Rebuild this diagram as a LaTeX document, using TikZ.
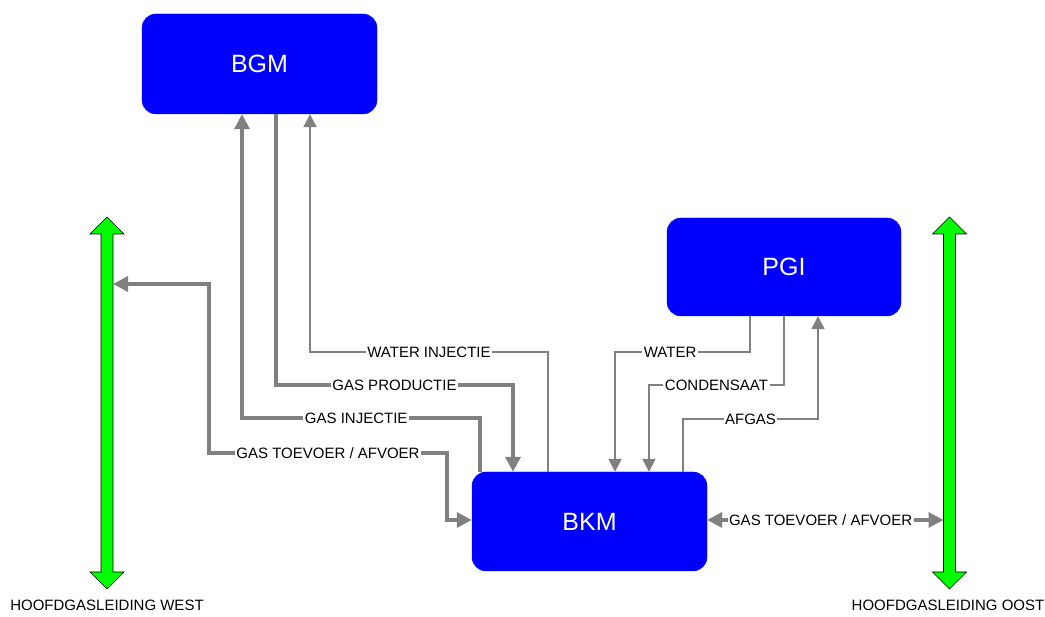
\documentclass[tikz,border=0pt]{standalone}
\usepackage{fontspec}
\setmainfont{Liberation Sans}
\usetikzlibrary{arrows.meta,calc}
\definecolor{boxblue}{RGB}{0,0,255}
\definecolor{lgray}{RGB}{128,128,128}
\definecolor{lgreen}{RGB}{0,255,0}
\begin{document}
\begin{tikzpicture}[x=1pt,y=1pt,
  blk/.style={rectangle, rounded corners=14pt, fill=boxblue, draw=boxblue,
    text=white, font=\fontsize{25}{30}\selectfont, minimum width=235pt,
    minimum height=100pt, inner sep=0pt},
  thk/.style={draw=lgray, line width=3.5pt, arrows={-Triangle[length=15pt,width=15pt]}},
  thkboth/.style={draw=lgray, line width=3.5pt,
    arrows={Triangle[length=15pt,width=15pt]-Triangle[length=15pt,width=15pt]}},
  thn/.style={draw=lgray, line width=2pt, arrows={-Triangle[length=13pt,width=13pt]}},
  lab/.style={fill=white, text=black, font=\fontsize{15}{18}\selectfont,
    inner sep=1.5pt, text height=10.8pt, text depth=0pt},
  bottomlab/.style={text=black, font=\fontsize{15}{18}\selectfont, inner sep=0pt},
  greenarrow/.style={fill=lgreen, draw=black, line width=0.6pt}
]
\useasboundingbox (0,0) rectangle (1045,617);

% main blocks
\node[blk] (BGM) at (259.5,553) {BGM};
\node[blk, minimum width=234pt, minimum height=98pt] (PGI) at (784,350) {PGI};
\node[blk, minimum height=99pt] (BKM) at (589.5,95.5) {BKM};

% green double arrows (pipelines)
\filldraw[greenarrow] (107,400) -- (124,383) -- (113,383) -- (113,45) -- (124,45)
  -- (107,28) -- (90,45) -- (101,45) -- (101,383) -- (90,383) -- cycle;
\filldraw[greenarrow] (949.5,400) -- (966.5,383) -- (955.5,383) -- (955.5,45) -- (966.5,45)
  -- (949.5,28) -- (932.5,45) -- (943.5,45) -- (943.5,383) -- (932.5,383) -- cycle;
\coordinate (wtap) at (113,333);
\coordinate (etap) at (943.5,97);

\node[bottomlab] (westlbl) at (107,12) {HOOFDGASLEIDING WEST};
\node[bottomlab] (eastlbl) at (948,12) {HOOFDGASLEIDING OOST};

% connectors BGM <-> BKM
\draw[thn] ([xshift=-41.5pt]BKM.north) -- ++(0,120)
  -| node[lab,pos=0.25]{WATER INJECTIE} ([xshift=50.5pt]BGM.south);
\draw[thk] ([xshift=16.5pt]BGM.south) -- ++(0,-271)
  -| node[lab,pos=0.25]{GAS PRODUCTIE} ([xshift=-76.5pt]BKM.north);
\draw[thk] ([xshift=-109.5pt]BKM.north) -- ++(0,54)
  -| node[lab,pos=0.26]{GAS INJECTIE} ([xshift=-17.5pt]BGM.south);

% west pipeline
\draw[thkboth] (wtap) -- ++(96,0) -- ++(0,-169)
  -- node[lab]{GAS TOEVOER / AFVOER} ++(238,0) |- ([yshift=1.5pt]BKM.west);

% PGI <-> BKM
\draw[thn] ([xshift=-34pt]PGI.south) -- ++(0,-36)
  -| node[lab,pos=0.296]{WATER} ([xshift=25.5pt]BKM.north);
\draw[thn] (PGI.south) -- ++(0,-69)
  -| node[lab,pos=0.25]{CONDENSAAT} ([xshift=59.5pt]BKM.north);
\draw[thn] ([xshift=93.5pt]BKM.north) -- ++(0,53)
  -| node[lab,pos=0.25]{AFGAS} ([xshift=34pt]PGI.south);

% east pipeline
\draw[thkboth] ([yshift=1.5pt]BKM.east) -- node[lab,pos=0.48]{GAS TOEVOER / AFVOER} (etap);
\end{tikzpicture}
\end{document}
